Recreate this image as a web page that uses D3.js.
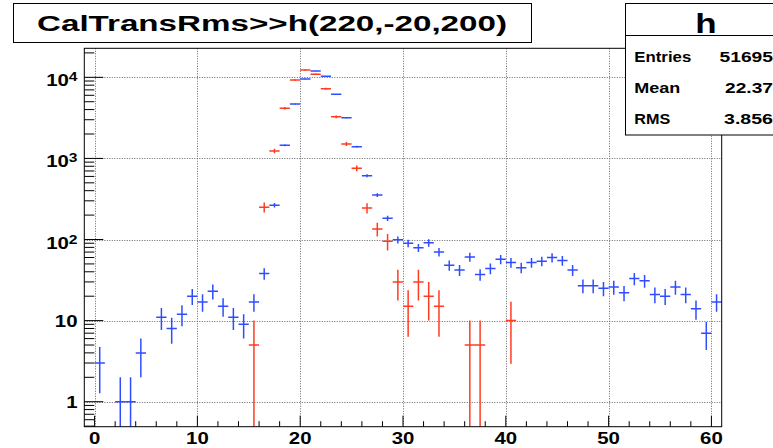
<!DOCTYPE html>
<html>
<head>
<meta charset="utf-8">
<script src="https://cdn.jsdelivr.net/npm/d3@7"></script>
<style>
  html, body { margin: 0; padding: 0; background: #fff; }
  svg { display: block; }
  text { font-family: "Liberation Sans", Arial, Helvetica, sans-serif; font-weight: bold; fill: #000; }
</style>
</head>
<body>
<svg id="chart" width="773" height="448"></svg>
<script>
// ---------- data ----------
const titleText = "CalTransRms>>h(220,-20,200)";
const statsName = "h";
const statsLabels = ["Entries", "Mean", "RMS"];
const statsValues = ["51695", "22.37", "3.856"];

// bin centres (bin width 1)
const binCenters = [0.5,1.5,2.5,3.5,4.5,5.5,6.5,7.5,8.5,9.5,10.5,11.5,12.5,13.5,14.5,15.5,16.5,17.5,18.5,19.5,
  20.5,21.5,22.5,23.5,24.5,25.5,26.5,27.5,28.5,29.5,30.5,31.5,32.5,33.5,34.5,35.5,36.5,37.5,38.5,39.5,
  40.5,41.5,42.5,43.5,44.5,45.5,46.5,47.5,48.5,49.5,50.5,51.5,52.5,53.5,54.5,55.5,56.5,57.5,58.5,59.5,60.5];

// blue histogram (h), unit weights
const blueValues = [3,0,1,1,4,0,11,8,12,20,17,23,15,11,9,17,38,265,1450,4690,
  9530,11960,10280,6170,3176,1396,612,354,183,99,90,79,91,70,48,42,61,37,44,57,
  52,45,52,54,60,55,42,27,27,25,26,22,33,31,21,20,26,21,14,7,17];

// red histogram, weight 5 per entry
const redWeight = 5;
const redValues = [0,0,0,0,0,0,0,0,0,0,0,0,0,0,0,5,250,1235,4150,9270,
  12270,10890,7240,3265,1505,755,245,135,95,30,15,30,20,15,0,0,5,5,0,0,
  10,0,0,0,0,0,0,0,0,0,0,0,0,0,0,0,0,0,0,0,0];

const xTickValues = [0,10,20,30,40,50,60];
const xTickLabels = ["0","10","20","30","40","50","60"];
const yTickValues = [1,10,100,1000,10000];
const yTickBase = ["1","10","10","10","10"];
const yTickExp = ["","","2","3","4"];

// ---------- layout ----------
const frame = { left: 84.3, right: 721.7, top: 48.3, bottom: 426.7 };
const xDomain = [-1, 61];
const yDomain = [0.492, 22790];
const blueColor = "#2f4dff";
const redColor = "#ff3b22";

const svg = d3.select("#chart");
const x = d3.scaleLinear().domain(xDomain).range([frame.left, frame.right]);
const y = d3.scaleLog().domain(yDomain).range([frame.bottom, frame.top]);

// clip
svg.append("defs").append("clipPath").attr("id", "clip")
  .append("rect").attr("x", frame.left).attr("y", frame.top)
  .attr("width", frame.right - frame.left).attr("height", frame.bottom - frame.top);

// grid
const grid = svg.append("g").attr("stroke", "#666").attr("stroke-width", 1).attr("stroke-dasharray", "1,1.5");
grid.selectAll("line.gx").data(xTickValues).join("line")
  .attr("x1", d => Math.round(x(d)) + 0.5).attr("x2", d => Math.round(x(d)) + 0.5)
  .attr("y1", frame.top).attr("y2", frame.bottom);
grid.selectAll("line.gy").data(yTickValues).join("line")
  .attr("y1", d => Math.round(y(d)) + 0.5).attr("y2", d => Math.round(y(d)) + 0.5)
  .attr("x1", frame.left).attr("x2", frame.right);

// data marks
function drawHist(values, weight, color) {
  const pts = binCenters.map((c, i) => ({ c, v: values[i], e: Math.sqrt(values[i] * weight) }))
    .filter(d => d.v > 0);
  const g = svg.append("g").attr("clip-path", "url(#clip)")
    .attr("stroke", color).attr("stroke-width", 1.5).attr("fill", "none");
  g.selectAll("line.h").data(pts).join("line")
    .attr("x1", d => x(d.c - 0.5)).attr("x2", d => x(d.c + 0.5))
    .attr("y1", d => y(d.v)).attr("y2", d => y(d.v));
  g.selectAll("line.v").data(pts).join("line")
    .attr("x1", d => x(d.c)).attr("x2", d => x(d.c))
    .attr("y1", d => y(d.v + d.e))
    .attr("y2", d => (d.v - d.e) > yDomain[0] ? y(d.v - d.e) : frame.bottom + 2);
}
drawHist(blueValues, 1, blueColor);
drawHist(redValues, redWeight, redColor);

// frame
svg.append("rect").attr("x", frame.left).attr("y", frame.top)
  .attr("width", frame.right - frame.left).attr("height", frame.bottom - frame.top)
  .attr("fill", "none").attr("stroke", "#000").attr("stroke-width", 1);

// x axis ticks (inside, upward)
const axisG = svg.append("g").attr("stroke", "#000").attr("stroke-width", 1);
const xMinor = d3.range(0, 61, 2);
axisG.selectAll("line.xt").data(xMinor).join("line")
  .attr("x1", d => x(d)).attr("x2", d => x(d))
  .attr("y1", frame.bottom).attr("y2", d => frame.bottom - (d % 10 === 0 ? 11 : 5.5));

// y axis ticks (inside, rightward)
const yMinor = [];
for (let dec = 0.1; dec <= 10000; dec *= 10) {
  for (let k = 1; k <= 9; k++) {
    const v = +(k * dec).toPrecision(3);
    if (v >= yDomain[0] && v <= yDomain[1]) yMinor.push({ v, major: k === 1 });
  }
}
axisG.selectAll("line.yt").data(yMinor).join("line")
  .attr("y1", d => y(d.v)).attr("y2", d => y(d.v))
  .attr("x1", frame.left).attr("x2", d => frame.left + (d.major ? 19 : 10));

// stretched text helper
function sText(parent, tx, ty, sx, anchor, size) {
  const g = parent.append("g").attr("transform", `translate(${tx},${ty}) scale(${sx},1)`);
  return g.append("text").attr("text-anchor", anchor).attr("font-size", size);
}

// x labels
xTickValues.forEach((v, i) => {
  sText(svg, x(v), 444, 1.2, "middle", 17).text(xTickLabels[i]);
});

// y labels
yTickValues.forEach((v, i) => {
  const ty = y(v);
  if (yTickExp[i] === "") {
    sText(svg, 77.5, ty + 6.6, 1.2, "end", 17).text(yTickBase[i]);
  } else {
    const t = sText(svg, 77.5, ty + 9, 1.2, "end", 17);
    t.append("tspan").text(yTickBase[i]);
    t.append("tspan").attr("font-size", 13).attr("dy", -5).text(yTickExp[i]);
  }
});

// title box
svg.append("rect").attr("x", 13.5).attr("y", 3.5).attr("width", 518).attr("height", 39)
  .attr("fill", "#fff").attr("stroke", "#000").attr("stroke-width", 1);
svg.append("text").attr("x", 272).attr("y", 30.5).attr("text-anchor", "middle")
  .attr("font-size", 22).attr("textLength", 470).attr("lengthAdjust", "spacingAndGlyphs")
  .text(titleText);

// stats box
svg.append("rect").attr("x", 625.5).attr("y", 3.5).attr("width", 170).attr("height", 131.5)
  .attr("fill", "#fff").attr("stroke", "#000").attr("stroke-width", 1);
svg.append("line").attr("x1", 625.5).attr("x2", 800).attr("y1", 35.5).attr("y2", 35.5)
  .attr("stroke", "#000").attr("stroke-width", 1);
sText(svg, 706, 33.3, 1.25, "middle", 28).text(statsName);
const rowY = [62, 93, 124];
const labelW = [57, 46, 36];
const valStart = [719.5, 725, 724];
statsLabels.forEach((s, i) => {
  svg.append("text").attr("x", 634.3).attr("y", rowY[i]).attr("font-size", 15.5)
    .attr("textLength", labelW[i]).attr("lengthAdjust", "spacingAndGlyphs").text(s);
  svg.append("text").attr("x", valStart[i]).attr("y", rowY[i]).attr("font-size", 15.5)
    .attr("textLength", 773 - valStart[i]).attr("lengthAdjust", "spacingAndGlyphs").text(statsValues[i]);
});
</script>
</body>
</html>
